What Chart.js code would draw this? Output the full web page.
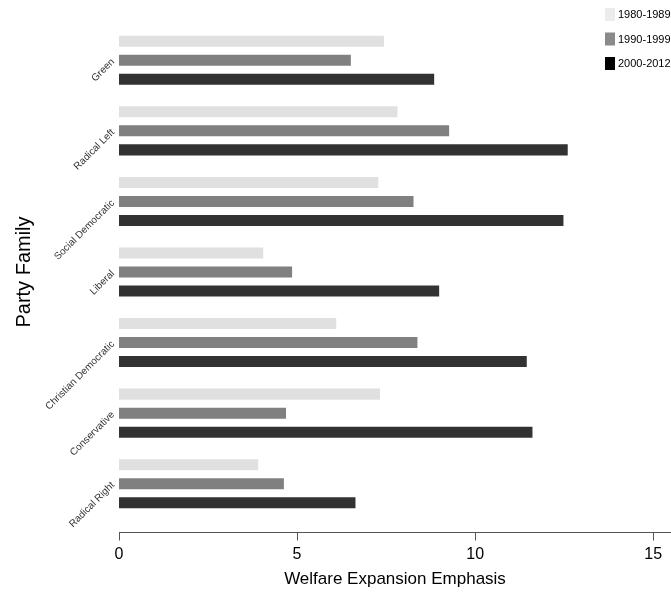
<!DOCTYPE html>
<html>
<head>
<meta charset="utf-8">
<script src="https://cdn.jsdelivr.net/npm/chart.js@4/dist/chart.umd.min.js"></script>
<style>
  html, body { margin: 0; padding: 0; background: #ffffff; }
  #wrap { width: 671px; height: 594px; }
</style>
</head>
<body>
<div id="wrap"><canvas id="c" width="671" height="594"></canvas></div>
<script>
// ---- data ----
const categories = ['Green', 'Radical Left', 'Social Democratic', 'Liberal', 'Christian Democratic', 'Conservative', 'Radical Right'];
const seriesNames = ['1980-1989', '1990-1999', '2000-2012'];
const values1980s = [7.44, 7.82, 7.28, 4.05, 6.10, 7.33, 3.91];
const values1990s = [6.51, 9.27, 8.27, 4.86, 8.38, 4.69, 4.63];
const values2000s = [8.85, 12.60, 12.48, 8.99, 11.45, 11.61, 6.64];
const xTickValues = [0, 5, 10, 15];
const xTitle = 'Welfare Expansion Emphasis';
const yTitle = 'Party Family';

const barColors = ['#e0e0e0', '#808080', '#323232'];
const legendColors = ['#ececec', '#8a8a8a', '#000000'];
const FONT = '"Liberation Sans", Arial, Helvetica, sans-serif';

// draws the x axis line a little below the plot, and a custom legend
const extrasPlugin = {
  id: 'extras',
  afterDraw(chart) {
    const ctx = chart.ctx;
    const xs = chart.scales.x;
    const area = chart.chartArea;
    const axisY = Math.round(area.bottom + 13) + 0.5;
    ctx.save();
    ctx.strokeStyle = '#555555';
    ctx.lineWidth = 1;
    ctx.beginPath();
    ctx.moveTo(xs.getPixelForValue(0), axisY);
    ctx.lineTo(chart.width, axisY);
    xTickValues.forEach(v => {
      const px = Math.round(xs.getPixelForValue(v)) + 0.5;
      ctx.moveTo(px, axisY);
      ctx.lineTo(px, axisY + 8);
    });
    ctx.stroke();

    // legend
    ctx.font = '11px ' + FONT;
    ctx.textBaseline = 'middle';
    ctx.textAlign = 'left';
    chart.data.datasets.forEach((ds, i) => {
      const top = 8 + i * 24.5;
      ctx.fillStyle = ds.legendColor;
      ctx.fillRect(605, top, 10, 13);
      ctx.fillStyle = '#000000';
      ctx.fillText(ds.label, 618, top + 7);
    });
    ctx.restore();
  }
};

new Chart(document.getElementById('c'), {
  type: 'bar',
  data: {
    labels: categories,
    datasets: [
      { label: seriesNames[0], data: values1980s, backgroundColor: barColors[0], legendColor: legendColors[0] },
      { label: seriesNames[1], data: values1990s, backgroundColor: barColors[1], legendColor: legendColors[1] },
      { label: seriesNames[2], data: values2000s, backgroundColor: barColors[2], legendColor: legendColors[2] }
    ]
  },
  options: {
    indexAxis: 'y',
    responsive: false,
    animation: false,
    devicePixelRatio: 1,
    categoryPercentage: 0.808,
    barPercentage: 0.58,
    layout: { padding: { top: 25, right: 0, bottom: 0, left: 0 } },
    plugins: {
      legend: { display: false },
      tooltip: { enabled: false }
    },
    scales: {
      x: {
        type: 'linear',
        min: 0,
        max: 15.5,
        grid: { display: false, drawTicks: false },
        border: { display: false },
        afterBuildTicks: (scale) => {
          scale.ticks = xTickValues.map(v => ({ value: v }));
        },
        afterFit: (scale) => {
          scale.height = 75;
          scale.paddingLeft = 0;
          scale.paddingRight = 0;
        },
        ticks: {
          padding: 26,
          color: '#000000',
          font: { family: FONT, size: 16 },
          maxRotation: 0
        },
        title: {
          display: true,
          text: xTitle,
          color: '#000000',
          font: { family: FONT, size: 17 },
          padding: { top: 0, bottom: 4 }
        }
      },
      y: {
        type: 'category',
        grid: { display: false, drawTicks: false },
        border: { display: false },
        afterFit: (scale) => {
          scale.width = 119;
          scale.paddingTop = 0;
          scale.paddingBottom = 0;
        },
        ticks: {
          padding: 6,
          minRotation: 45,
          maxRotation: 45,
          color: '#333333',
          font: { family: FONT, size: 10 }
        },
        title: {
          display: true,
          text: yTitle,
          color: '#000000',
          font: { family: FONT, size: 20 },
          padding: { top: 12, bottom: 0 }
        }
      }
    }
  },
  plugins: [extrasPlugin]
});
</script>
</body>
</html>
